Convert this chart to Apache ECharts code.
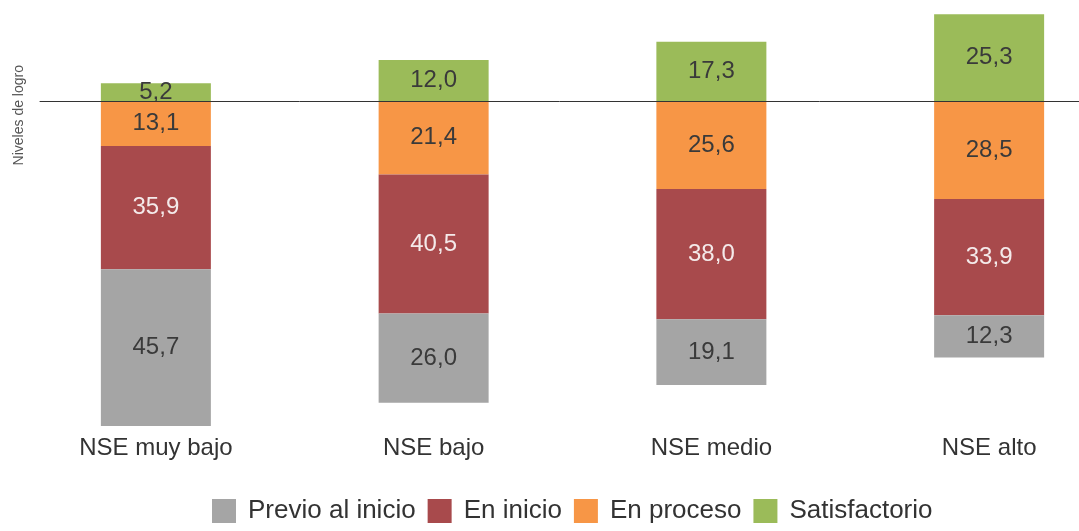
<!DOCTYPE html>
<html>
<head>
<meta charset="utf-8">
<script src="https://cdn.jsdelivr.net/npm/echarts@6/dist/echarts.min.js"></script>
<style>
  html, body { margin: 0; padding: 0; background: #fff; }
  #chart { width: 1079px; height: 531px; }
</style>
</head>
<body>
<div id="chart"></div>
<script>
var categories = ['NSE muy bajo', 'NSE bajo', 'NSE medio', 'NSE alto'];
var previo = [45.7, 26.0, 19.1, 12.3];
var enInicio = [35.9, 40.5, 38.0, 33.9];
var enProceso = [13.1, 21.4, 25.6, 28.5];
var satisfactorio = [5.2, 12.0, 17.3, 25.3];

function neg(arr) {
  return arr.map(function (v) { return -v; });
}
function fmt(p) {
  return Math.abs(p.value).toFixed(1).replace('.', ',');
}

var chart = echarts.init(document.getElementById('chart'));
var labelStyle = function (color) {
  return {
    show: true,
    position: 'inside',
    formatter: fmt,
    fontSize: 24,
    fontFamily: 'Liberation Sans, Arial, sans-serif',
    color: color
  };
};

var option = {
  animation: false,
  backgroundColor: '#ffffff',
  textStyle: { fontFamily: 'Liberation Sans, Arial, sans-serif' },
  grid: [
    { left: 17, width: 1111, top: 5, bottom: 97, outerBoundsMode: 'none', containLabel: false },
    // second grid only carries the zero baseline
    { left: 40, right: 0, top: 5, bottom: 97, outerBoundsMode: 'none', containLabel: false }
  ],
  legend: {
    data: ['Previo al inicio', 'En inicio', 'En proceso', 'Satisfactorio'],
    left: 207,
    bottom: 2,
    itemWidth: 24,
    itemHeight: 24,
    itemGap: 12,
    icon: 'rect',
    textStyle: { fontSize: 26, color: '#333', padding: [0, 0, 0, 7] }
  },
  graphic: [{
    type: 'text',
    left: 12,
    top: 65,
    rotation: Math.PI / 2,
    style: {
      text: 'Niveles de logro',
      fontSize: 14,
      fill: '#555',
      fontFamily: 'Liberation Sans, Arial, sans-serif'
    }
  }],
  xAxis: [
    {
      type: 'category',
      gridIndex: 0,
      data: categories,
      position: 'bottom',
      axisLine: { show: false, onZero: false },
      axisTick: { show: false },
      axisLabel: { fontSize: 24, color: '#333', margin: 2 }
    },
    {
      type: 'category',
      gridIndex: 1,
      data: categories,
      z: 10,
      axisLine: { show: true, onZero: true, lineStyle: { color: '#333', width: 1 } },
      axisTick: { show: false },
      axisLabel: { show: false }
    }
  ],
  yAxis: [
    {
      type: 'value',
      gridIndex: 0,
      min: -97,
      max: 28,
      axisLine: { show: false },
      axisTick: { show: false },
      axisLabel: { show: false },
      splitLine: { show: false }
    },
    {
      type: 'value',
      gridIndex: 1,
      min: -97,
      max: 28,
      axisLine: { show: false },
      axisTick: { show: false },
      axisLabel: { show: false },
      splitLine: { show: false }
    }
  ],
  series: [
    {
      name: 'En proceso',
      type: 'bar',
      stack: 'total',
      barWidth: 110,
      data: neg(enProceso),
      itemStyle: { color: '#f79646' },
      label: labelStyle('#3a3a3a')
    },
    {
      name: 'En inicio',
      type: 'bar',
      stack: 'total',
      barWidth: 110,
      data: neg(enInicio),
      itemStyle: { color: '#a84a4c' },
      label: labelStyle('#f4eaea')
    },
    {
      name: 'Previo al inicio',
      type: 'bar',
      stack: 'total',
      barWidth: 110,
      data: neg(previo),
      itemStyle: { color: '#a5a5a5' },
      label: labelStyle('#3a3a3a')
    },
    {
      name: 'Satisfactorio',
      type: 'bar',
      stack: 'total',
      barWidth: 110,
      data: satisfactorio,
      itemStyle: { color: '#9bbb59' },
      label: labelStyle('#3a3a3a')
    }
  ]
};
chart.setOption(option);
</script>
</body>
</html>
